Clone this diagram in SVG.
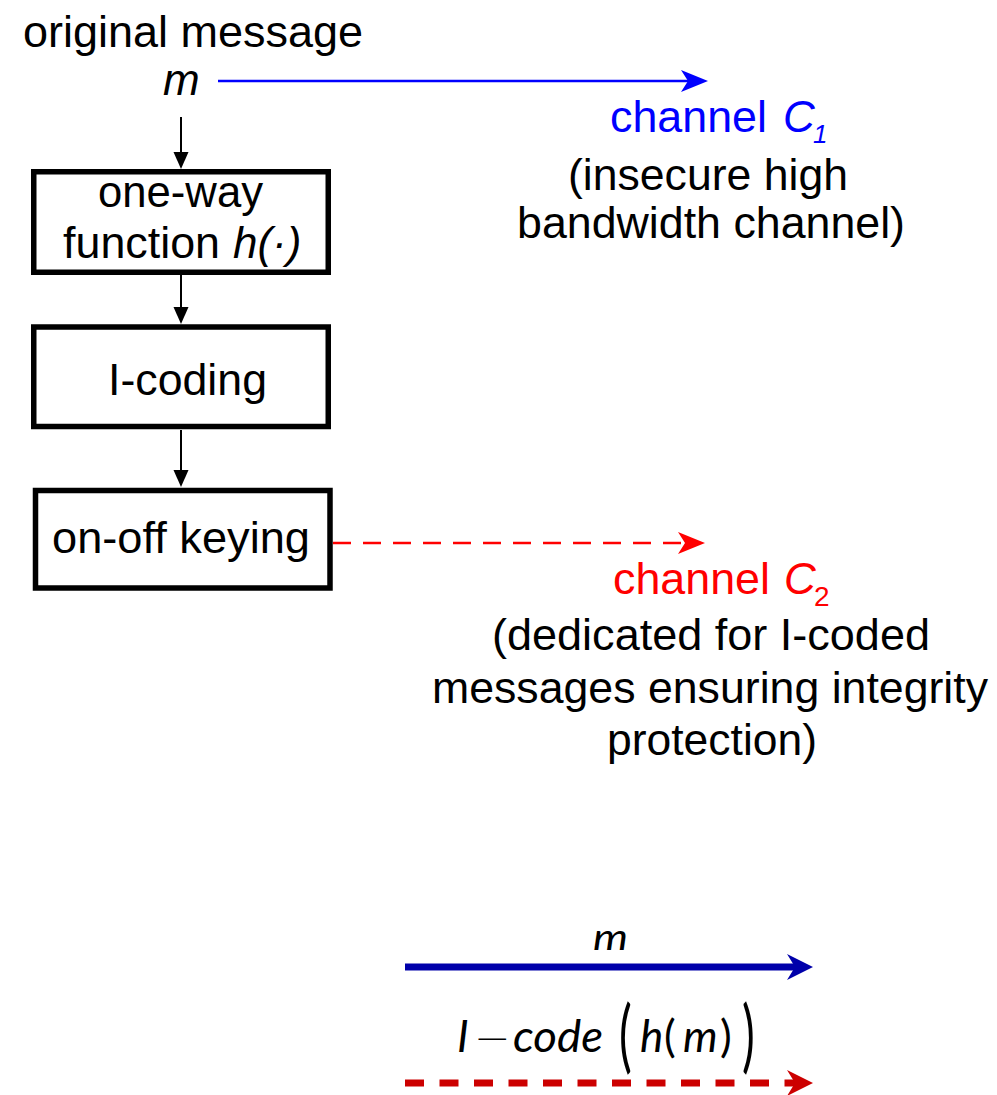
<svg xmlns="http://www.w3.org/2000/svg" width="997" height="1095" viewBox="0 0 997 1095">
<style>
.t{font-family:"Liberation Sans",Arial,sans-serif;font-size:44px;fill:#000}
.it{font-style:italic}
.blue{fill:#0000ff}
.red{fill:#ff0000}
.box{fill:#fff;stroke:#000;stroke-width:5.5}
.cb{fill:none;stroke:#000;stroke-width:2}
.c1{fill:none;stroke:#0000ff;stroke-width:2.5}
.c2{fill:none;stroke:#ff0000;stroke-width:2.5;stroke-dasharray:18 12}
.l1{fill:none;stroke:#0000aa;stroke-width:7}
.l2{fill:none;stroke:#cc0000;stroke-width:7;stroke-dasharray:19 15.5}
.math{font-family:Lato,"Open Sans",sans-serif;fill:#000}
</style>
<defs>
<marker id="ab" markerUnits="userSpaceOnUse" viewBox="0 -8 17 16" markerWidth="17" markerHeight="16" refX="7" refY="0" orient="auto"><path d="M17,0 L0,-7.5 L0,7.5 Z" fill="#000"/></marker>
<marker id="a1" markerUnits="userSpaceOnUse" viewBox="0 -12 28 24" markerWidth="28" markerHeight="24" refX="10" refY="0" orient="auto"><path d="M28,0 L1,-11 L8,0 L1,11 Z" fill="#0000ff"/></marker>
<marker id="a2" markerUnits="userSpaceOnUse" viewBox="0 -12 28 24" markerWidth="28" markerHeight="24" refX="10" refY="0" orient="auto"><path d="M28,0 L1,-11 L8,0 L1,11 Z" fill="#ff0000"/></marker>
<marker id="l1" markerUnits="userSpaceOnUse" viewBox="0 -14 28 28" markerWidth="28" markerHeight="28" refX="12" refY="0" orient="auto"><path d="M27,0 L1,-13 L9,0 L1,13 Z" fill="#0000aa"/></marker>
<marker id="l2" markerUnits="userSpaceOnUse" viewBox="0 -14 28 28" markerWidth="28" markerHeight="28" refX="12" refY="0" orient="auto"><path d="M27,0 L1,-13 L9,0 L1,13 Z" fill="#cc0000"/></marker>
</defs>

<g id="connectors">
<path class="cb" d="M181,117 V159" marker-end="url(#ab)"/>
<path class="cb" d="M181,275 V314" marker-end="url(#ab)"/>
<path class="cb" d="M181,430 V477" marker-end="url(#ab)"/>
<path class="c1" d="M218,81 H690" marker-end="url(#a1)"/>
<path class="c2" d="M333,543 H687" marker-end="url(#a2)"/>
</g>

<g id="source">
<text class="t" x="23" y="47" textLength="340" lengthAdjust="spacingAndGlyphs">original message</text>
<text class="t it" x="163" y="95">m</text>
</g>

<g id="oneway">
<rect class="box" x="33.75" y="171.75" width="294.5" height="100.5"/>
<text class="t" x="98" y="207" textLength="165" lengthAdjust="spacingAndGlyphs">one-way</text>
<text class="t" x="63" y="258" textLength="157" lengthAdjust="spacingAndGlyphs">function</text>
<text class="t it" x="233" y="258">h(·)</text>
</g>

<g id="icoding">
<rect class="box" x="33.75" y="327" width="294.5" height="99.5"/>
<text class="t" x="108" y="395" textLength="159" lengthAdjust="spacingAndGlyphs">I-coding</text>
</g>

<g id="ook">
<rect class="box" x="35.5" y="490.5" width="294.5" height="97.5"/>
<text class="t" x="52" y="553" textLength="258" lengthAdjust="spacingAndGlyphs">on-off keying</text>
</g>

<g id="channel1">
<text class="t blue" x="610" y="132" textLength="157" lengthAdjust="spacingAndGlyphs">channel</text>
<text class="t blue it" x="783" y="132">C</text>
<text class="t blue it" x="813" y="143" style="font-size:26px">1</text>
<text class="t" x="568" y="190" textLength="280" lengthAdjust="spacingAndGlyphs">(insecure high</text>
<text class="t" x="517" y="238" textLength="388" lengthAdjust="spacingAndGlyphs">bandwidth channel)</text>
</g>

<g id="channel2">
<text class="t red" x="613" y="594" textLength="157" lengthAdjust="spacingAndGlyphs">channel</text>
<text class="t red it" x="784" y="594">C</text>
<text class="t red" x="814" y="606" style="font-size:28px">2</text>
<text class="t" x="492" y="650" textLength="438" lengthAdjust="spacingAndGlyphs">(dedicated for I-coded</text>
<text class="t" x="432" y="703" textLength="556" lengthAdjust="spacingAndGlyphs">messages ensuring integrity</text>
<text class="t" x="607" y="755" textLength="210" lengthAdjust="spacingAndGlyphs">protection)</text>
</g>

<g id="legend">
<path class="l1" d="M405,967 H798" marker-end="url(#l1)"/>
<path class="l2" d="M405,1083 H798" marker-end="url(#l2)"/>
<text class="math" x="593" y="950" style="font-size:36px;font-style:italic" textLength="35" lengthAdjust="spacingAndGlyphs">m</text>
<text class="math" x="457" y="1052" style="font-size:44px;font-style:italic">I</text>
<text transform="translate(474,1052) scale(1.1,1)" style="font-family:'DejaVu Sans',sans-serif;font-size:40px;font-weight:300;fill:#000">−</text>
<text class="math" y="1052" style="font-size:44px">
<tspan x="513" font-style="italic" textLength="90" lengthAdjust="spacingAndGlyphs">code</tspan><tspan x="640" font-style="italic">h</tspan><tspan x="664">(</tspan><tspan x="683" font-style="italic">m</tspan><tspan x="720">)</tspan>
</text>
<text class="math" transform="translate(619,1063) scale(0.6,1)" style="font-size:80px">(</text>
<text class="math" transform="translate(742,1063) scale(0.6,1)" style="font-size:80px">)</text>
</g>
</svg>
